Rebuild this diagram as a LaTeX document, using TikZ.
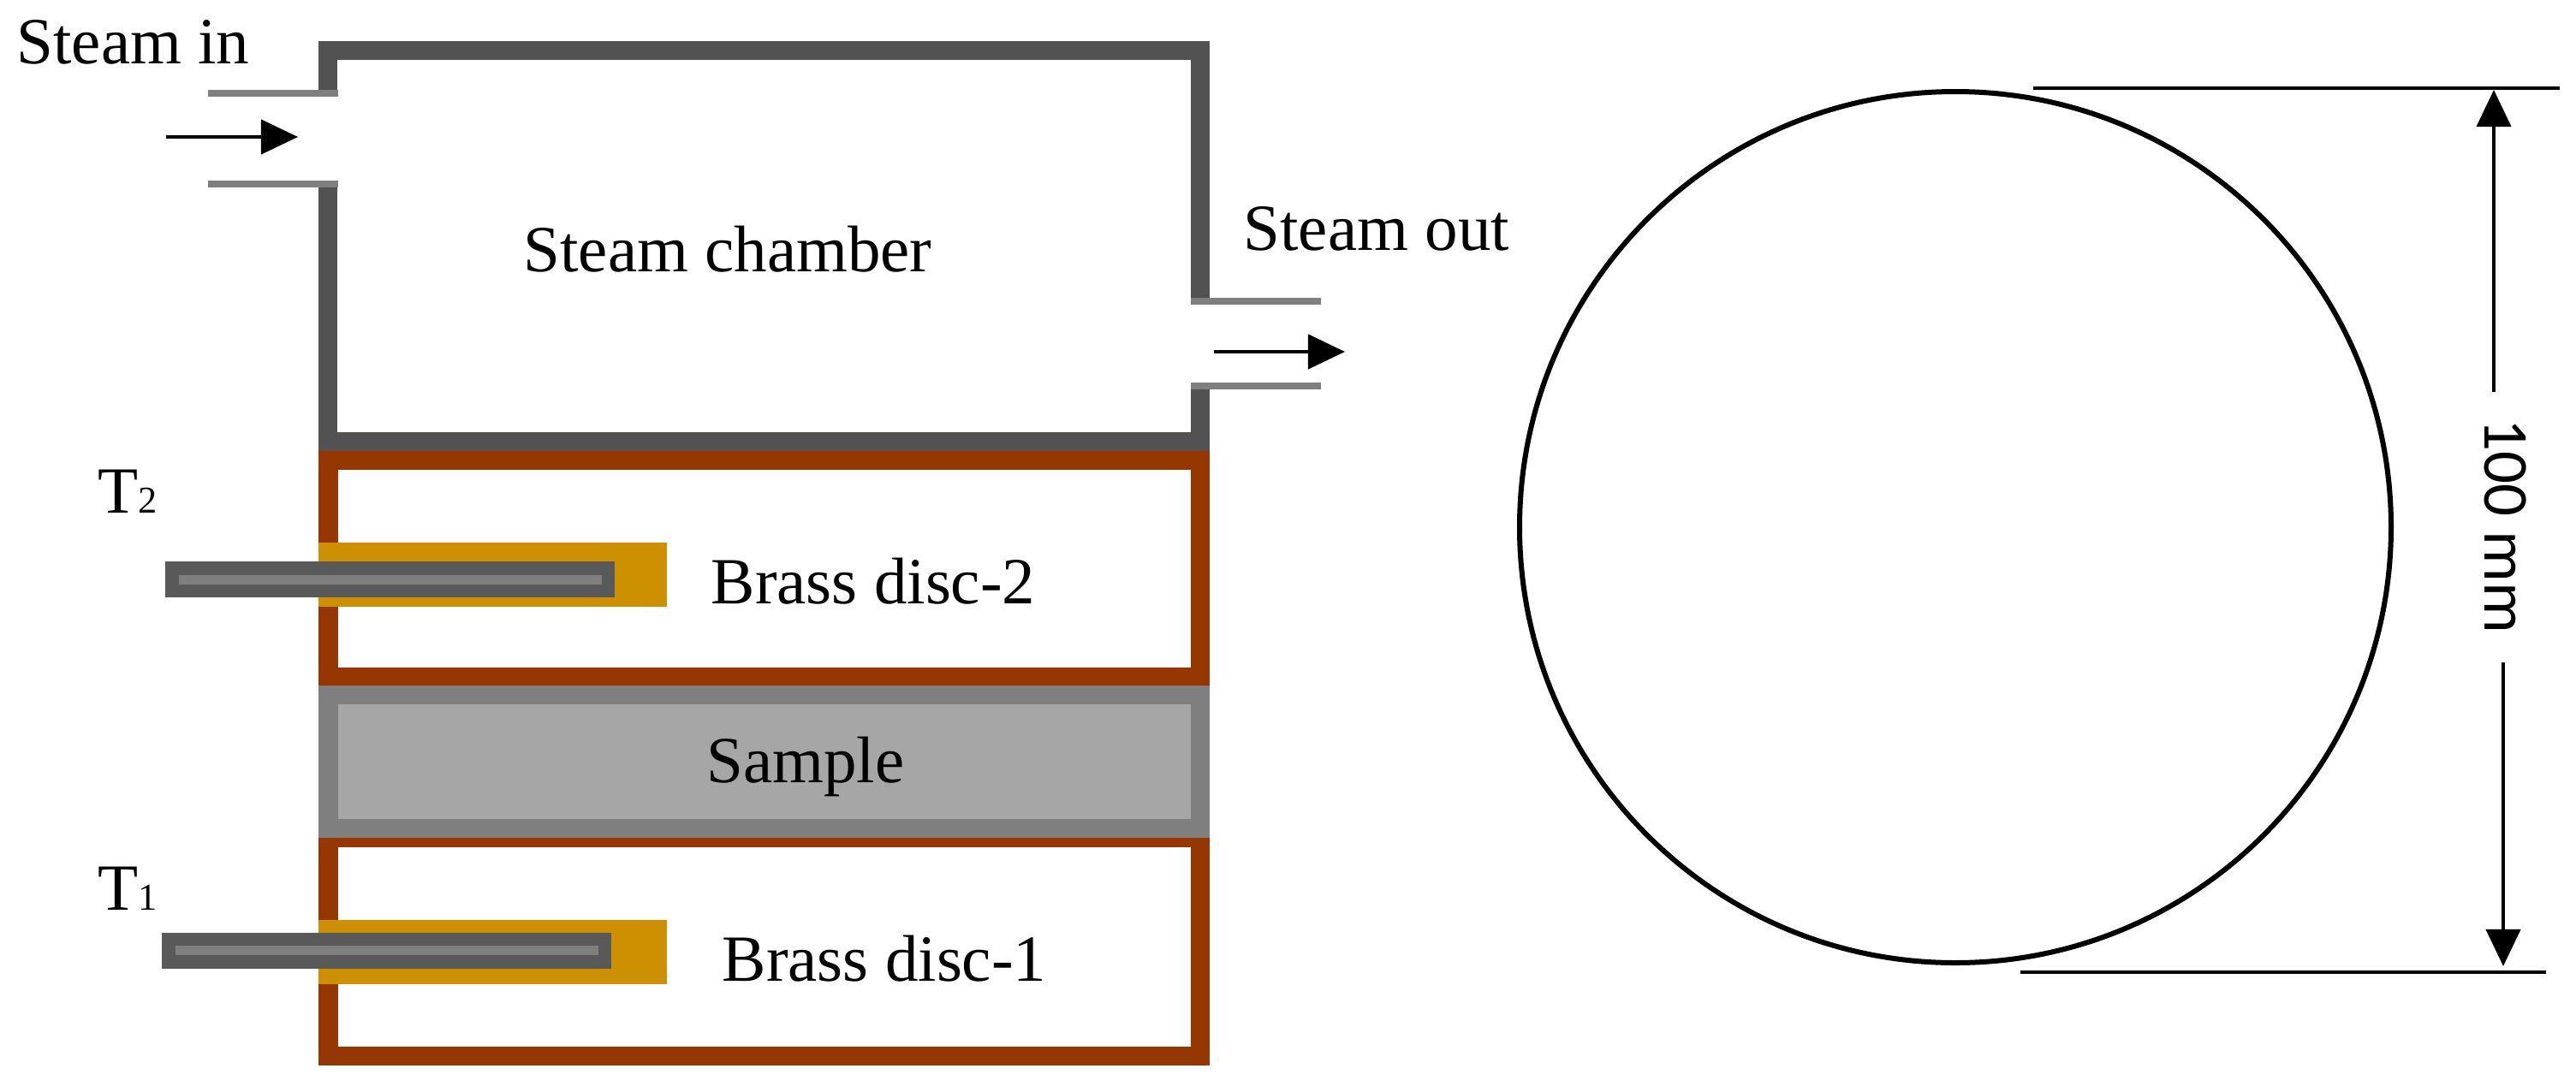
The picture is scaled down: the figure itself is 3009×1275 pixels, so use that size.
\documentclass[tikz,border=0pt]{standalone}
\usepackage{fontspec}
\setmainfont{Liberation Serif}
\newfontfamily\dimfont{Carlito}
\usetikzlibrary{arrows.meta}
\definecolor{wallgray}{HTML}{525252}
\definecolor{stubgray}{HTML}{7F7F7F}
\definecolor{probegray}{HTML}{595959}
\definecolor{samplegray}{HTML}{A6A6A6}
\definecolor{discbrown}{HTML}{963600}
\definecolor{brass}{HTML}{CC9000}
\tikzset{%
  >={Triangle[width=4mm,length=4.3mm]},
  % Specifications for style of parts:
            wall/.style  = {draw=wallgray, line width=2.25mm},
            stub/.style  = {draw=stubgray, line width=0.75mm},
            case/.style  = {draw=discbrown, line width=2.2mm},
            flow/.style  = {->, line width=0.45mm},
            rule/.style  = {draw=black, line width=0.4mm},
            label/.style = {inner sep=0pt, anchor=base, font=\fontsize{21.9}{26}\selectfont}
                           }
\newcommand{\probeindex}[1]{{\fontsize{12.6}{13}\selectfont #1}}
\begin{document}
\begin{tikzpicture}[x=0.01cm, y=-0.01cm]
                    \useasboundingbox (0,0) rectangle (3009,1275);

                    % chamber
                    \draw[wall] (383,108) -- (383,59) -- (1402,59) -- (1402,352);
                    \draw[wall] (383,215) -- (383,516) -- (1402,516) -- (1402,451);
                    \draw[stub] (243,109) -- (395,109);
                    \draw[stub] (243,215) -- (395,215);
                    \draw[stub] (1391,352) -- (1543,352);
                    \draw[stub] (1391,451) -- (1543,451);

                    % discs and sample
                    \draw[case] (383.5,538) rectangle (1402,791);
                    \draw[case] (383.5,979) rectangle (1402,1233.5);
                    \fill[stubgray] (372,801) rectangle (1413,979);
                    \fill[samplegray] (395,823) rectangle (1391,957);
                    \fill[brass] (372,634) rectangle (778.5,709);
                    \fill[brass] (372,1075) rectangle (778.5,1150);

                    % probes
                    \fill[probegray] (193,656) rectangle (718,698);
                    \fill[stubgray]  (209,672) rectangle (702.5,683);
                    \fill[probegray] (189,1090) rectangle (714,1131.5);
                    \fill[stubgray]  (205,1105) rectangle (698.5,1116);

                    \coordinate (intail)  at (194,160);
                    \coordinate (inhead)  at (348,160);
                    \coordinate (outtail) at (1418,411);
                    \coordinate (outhead) at (1571,411);
                    \draw[flow] (intail)  -- (inhead);
                    \draw[flow] (outtail) -- (outhead);

                    \node (steamin)  [label, anchor=base west] at (19,74)    {Steam in};
                    \node (chamber)  [label] at (850,317)  {Steam chamber};
                    \node (steamout) [label, anchor=base west] at (1452,292) {Steam out};
                    \node (disctwo)  [label] at (1020,705) {Brass disc-2};
                    \node (sample)   [label] at (941,914)  {Sample};
                    \node (discone)  [label] at (1033,1146) {Brass disc-1};
                    \node (ttwo)     [label, anchor=base west] at (114,599)  {T\probeindex{2}};
                    \node (tone)     [label, anchor=base west] at (114,1063) {T\probeindex{1}};

                    % specimen outline
                    \draw[black, line width=0.6mm] (2284,616) circle (509);
                    \draw[rule] (2375,103) -- (2990,103);
                    \draw[rule] (2360,1136) -- (2974,1136);

                    \node (size) [inner sep=0pt, anchor=base west, rotate=-90, font=\fontsize{21.3}{26}\selectfont\dimfont] at (2902,489) {100 mm};
                    \coordinate (uptail)   at (2913,458);
                    \coordinate (uphead)   at (2913,105);
                    \coordinate (downtail) at (2924,774);
                    \coordinate (downhead) at (2924,1129);
                    \draw[->, rule] (uptail)   -- (uphead);
                    \draw[->, rule] (downtail) -- (downhead);
                \end{tikzpicture}
\end{document}
